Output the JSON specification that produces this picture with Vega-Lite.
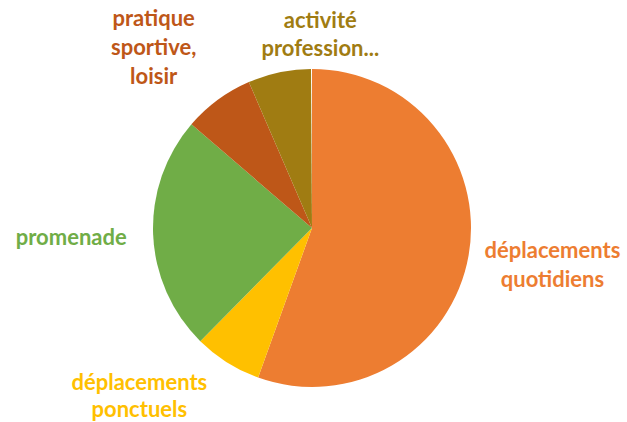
{
  "$schema": "https://vega.github.io/schema/vega-lite/v6.json",
  "width": 624,
  "height": 388,
  "autosize": "none",
  "padding": {"left": 0, "right": 3, "top": 34, "bottom": 0},
  "background": "white",
  "view": {"stroke": null},
  "data": {"values": [
    {"cat": "déplacements quotidiens", "label": "déplacements\nquotidiens", "v": 55.5, "o": 1},
    {"cat": "déplacements ponctuels", "label": "déplacements\nponctuels", "v": 6.9, "o": 2},
    {"cat": "promenade", "label": "promenade", "v": 23.9, "o": 3},
    {"cat": "pratique sportive, loisir", "label": "pratique\nsportive,\nloisir", "v": 7.2, "o": 4},
    {"cat": "activité professionnelle", "label": "activité\nprofession...", "v": 6.4, "o": 5}
  ]},
  "transform": [
    {"stack": "v", "groupby": [], "sort": [{"field": "o", "order": "ascending"}], "as": ["v0", "v1"]},
    {"calculate": "(datum.v0 + datum.v1) / 2", "as": "vm"}
  ],
  "encoding": {
    "color": {"field": "cat", "type": "nominal", "legend": null,
      "scale": {"domain": ["déplacements quotidiens", "déplacements ponctuels", "promenade", "pratique sportive, loisir", "activité professionnelle"],
                "range": ["#ED7D31", "#FFC000", "#70AD47", "#BE5718", "#A07C12"]}}
  },
  "layer": [
    {"mark": {"type": "arc", "outerRadius": 159},
     "encoding": {
       "theta": {"field": "v0", "type": "quantitative", "scale": {"domain": [0, 100]}},
       "theta2": {"field": "v1"}
     }},
    {"transform": [{"filter": "datum.o == 1"}],
     "mark": {"type": "text", "radius": 240, "dx": 4, "dy": -18, "font": "Lato", "fontWeight": "bold", "fontSize": 22, "lineBreak": "\n", "lineHeight": 29, "align": "center", "baseline": "middle"},
     "encoding": {"theta": {"field": "vm", "type": "quantitative", "scale": {"domain": [0, 100]}}, "text": {"field": "label"}}},
    {"transform": [{"filter": "datum.o == 2"}],
     "mark": {"type": "text", "radius": 200, "dx": -66, "dy": -14, "font": "Lato", "fontWeight": "bold", "fontSize": 22, "lineBreak": "\n", "lineHeight": 27, "align": "center", "baseline": "middle"},
     "encoding": {"theta": {"field": "vm", "type": "quantitative", "scale": {"domain": [0, 100]}}, "text": {"field": "label"}}},
    {"transform": [{"filter": "datum.o == 3"}],
     "mark": {"type": "text", "radius": 237, "dx": -4, "dy": 0, "font": "Lato", "fontWeight": "bold", "fontSize": 22, "lineBreak": "\n", "align": "center", "baseline": "middle"},
     "encoding": {"theta": {"field": "vm", "type": "quantitative", "scale": {"domain": [0, 100]}}, "text": {"field": "label"}}},
    {"transform": [{"filter": "datum.o == 4"}],
     "mark": {"type": "text", "radius": 230, "dx": -22, "dy": -24, "font": "Lato", "fontWeight": "bold", "fontSize": 22, "lineBreak": "\n", "lineHeight": 29, "align": "center", "baseline": "middle"},
     "encoding": {"theta": {"field": "vm", "type": "quantitative", "scale": {"domain": [0, 100]}}, "text": {"field": "label"}}},
    {"transform": [{"filter": "datum.o == 5"}],
     "mark": {"type": "text", "radius": 198, "dx": 49, "dy": -13, "font": "Lato", "fontWeight": "bold", "fontSize": 22, "lineBreak": "\n", "lineHeight": 28, "align": "center", "baseline": "middle"},
     "encoding": {"theta": {"field": "vm", "type": "quantitative", "scale": {"domain": [0, 100]}}, "text": {"field": "label"}}}
  ]
}
